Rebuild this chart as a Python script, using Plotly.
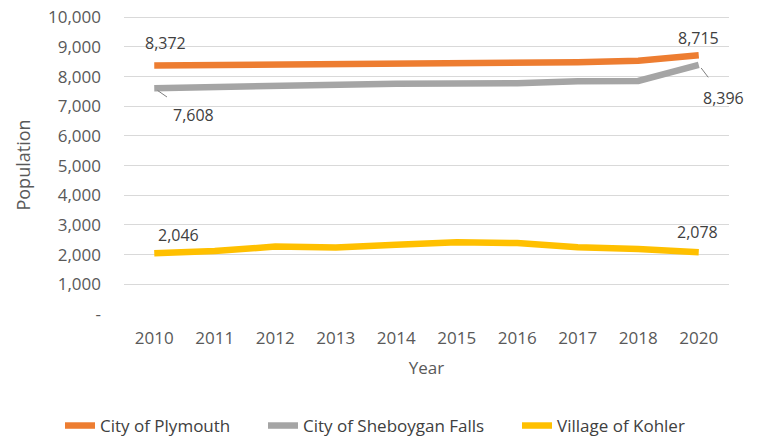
import plotly.graph_objects as go

years = ["2010", "2011", "2012", "2013", "2014", "2015", "2016", "2017", "2018", "2020"]
plymouth = [8372, 8380, 8390, 8400, 8410, 8440, 8450, 8480, 8530, 8715]
sheboygan_falls = [7608, 7650, 7720, 7740, 7760, 7770, 7775, 7840, 7850, 8396]
kohler = [2046, 2120, 2270, 2240, 2330, 2420, 2390, 2250, 2190, 2078]

y_tickvals = [0, 1000, 2000, 3000, 4000, 5000, 6000, 7000, 8000, 9000, 10000]
y_ticktext = ["-", "1,000", "2,000", "3,000", "4,000", "5,000", "6,000", "7,000", "8,000", "9,000", "10,000"]

series = [
    ("City of Plymouth", plymouth, "#ED7D31", "legend"),
    ("City of Sheboygan Falls", sheboygan_falls, "#A5A5A5", "legend2"),
    ("Village of Kohler", kohler, "#FFC000", "legend3"),
]

FONT = "Open Sans, Liberation Sans, sans-serif"
fig = go.Figure()
for name, vals, col, leg in series:
    fig.add_trace(go.Scatter(x=years, y=vals, name=name, mode="lines", legend=leg,
                             line=dict(color=col, width=6.5)))

def fmt(v):
    return f"{v:,}"

last = len(years) - 1
# data labels: (series values, category index, ax, ay, leader line)
labels = [
    (plymouth, 0, 11, -23, False),
    (plymouth, last, 0, -17, False),
    (sheboygan_falls, 0, 39, 27, True),
    (sheboygan_falls, last, 25, 33, True),
    (kohler, 0, 24, -18, False),
    (kohler, last, -1, -20, False),
]
for vals, i, ax, ay, arrow in labels:
    fig.add_annotation(x=i, y=vals[i], xref="x", yref="y", text=fmt(vals[i]),
                       showarrow=True, arrowhead=0, arrowwidth=1,
                       arrowcolor="#7f7f7f" if arrow else "rgba(0,0,0,0)",
                       ax=ax, ay=ay, standoff=4 if arrow else 0, startstandoff=10 if arrow else 0,
                       font=dict(family=FONT, size=16, color="#404040"))

def leg(xpx):
    return dict(orientation="h", xref="container", x=xpx / 762, xanchor="left",
                yref="container", y=0.023, yanchor="middle",
                font=dict(size=17, color="#404040"), bgcolor="rgba(0,0,0,0)")

fig.update_layout(
    width=762, height=436,
    margin=dict(l=124, r=33, t=16, b=122, autoexpand=False),
    paper_bgcolor="white", plot_bgcolor="white",
    font=dict(family=FONT, size=16, color="#595959"),
    showlegend=True,
    legend=leg(60),
    legend2=leg(263),
    legend3=leg(517),
    xaxis=dict(type="category", range=[-0.5, len(years) - 0.5],
               showgrid=False, showline=False, ticks="", ticklabelstandoff=12,
               title=dict(text="Year", font=dict(size=17, color="#595959"), standoff=14),
               tickfont=dict(size=17, color="#595959")),
    yaxis=dict(range=[0, 10040], tickvals=y_tickvals, ticktext=y_ticktext,
               showgrid=True, gridcolor="#d9d9d9", gridwidth=1, zeroline=False,
               ticks="", ticklabelstandoff=22,
               title=dict(text="Population", font=dict(size=18, color="#595959"), standoff=12),
               tickfont=dict(size=17, color="#595959")),
)

fig.write_html("out.html", config={"displayModeBar": False},
               post_script="document.body.style.margin='0';")
